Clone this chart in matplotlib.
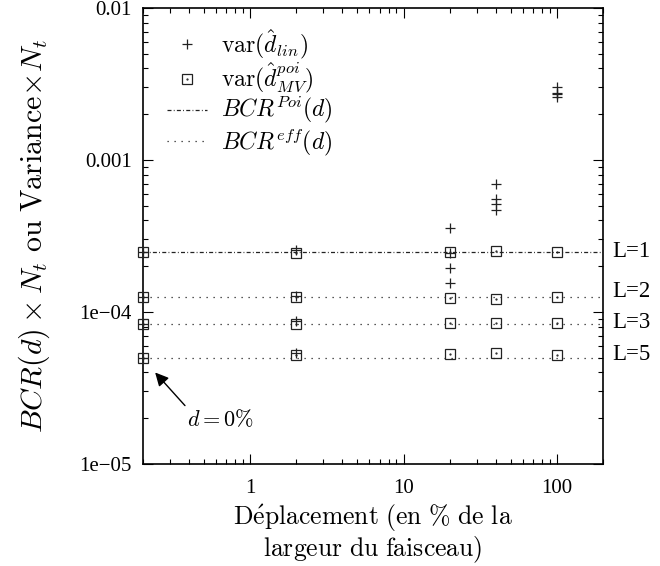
import matplotlib
matplotlib.use("Agg")
import matplotlib.pyplot as plt
from matplotlib.lines import Line2D
import numpy as np

plt.rcParams['mathtext.fontset'] = 'cm'

# ---------------- data ----------------
displacement = [0.2, 2, 20, 40, 100]          # % of beam width (0% drawn at left edge)
var_lin = [                                    # var(d_lin) x Nt, 4 values per displacement
    [2.5e-4, 1.25e-4, 8.4e-5, 5.0e-5],
    [2.55e-4, 1.28e-4, 8.7e-5, 5.35e-5],
    [3.55e-4, 2.45e-4, 1.94e-4, 1.55e-4],
    [6.95e-4, 5.5e-4, 5.1e-4, 4.7e-4],
    [3.0e-3, 2.75e-3, 2.7e-3, 2.6e-3],
]
var_mv = [                                     # var(d_MV^poi) x Nt
    [2.5e-4, 1.25e-4, 8.4e-5, 5.0e-5],
    [2.45e-4, 1.25e-4, 8.3e-5, 5.2e-5],
    [2.5e-4, 1.24e-4, 8.5e-5, 5.3e-5],
    [2.52e-4, 1.22e-4, 8.5e-5, 5.35e-5],
    [2.5e-4, 1.25e-4, 8.5e-5, 5.2e-5],
]
bcr_poi = 2.5e-4
L_values = [1, 2, 3, 5]
L_labels = ["L=1", "L=2", "L=3", "L=5"]
ytick_vals = [1e-5, 1e-4, 1e-3, 1e-2]
ytick_labels = ["1e\u221205", "1e\u221204", "0.001", "0.01"]
xtick_vals = [1, 10, 100]
xtick_labels = ["1", "10", "100"]

# ---------------- figure ----------------
fig = plt.figure(figsize=(6.6, 5.66), dpi=100)
ax = fig.add_axes([143/660, 1-464/566, 460/660, 456/566])
ax.set_xscale('log')
ax.set_yscale('log')
ax.set_xlim(0.2, 200)
ax.set_ylim(1e-5, 1e-2)

dark = '#222222'
dashdot = (0, (3.2, 1.8, 0.7, 1.8))
dotted = (0, (1.0, 4.6))

# BCR lines
for i, L in enumerate(L_values):
    ax.axhline(bcr_poi / L, color=dark, lw=0.9,
               linestyle=dashdot if L == 1 else dotted, zorder=1)

# markers
xs_lin = np.repeat(displacement, 4)
ys_lin = np.concatenate(var_lin)
xs_mv = np.repeat(displacement, 4)
ys_mv = np.concatenate(var_mv)
ax.plot(xs_lin, ys_lin, linestyle='none', marker='+', ms=7, mew=0.9,
        color=dark, clip_on=False, zorder=3)
ax.plot(xs_mv, ys_mv, linestyle='none', marker='s', ms=7.5, mew=0.9,
        mfc='none', mec=dark, clip_on=False, zorder=3)
ax.plot(xs_mv, ys_mv, linestyle='none', marker='.', ms=1.2,
        color=dark, clip_on=False, zorder=3)

# L labels at right
label_offsets = [0, 4, 1, 2]
for L, lab, off in zip(L_values, L_labels, label_offsets):
    ax.annotate(lab, xy=(1.0, bcr_poi / L), xycoords=('axes fraction', 'data'),
                xytext=(7, off), textcoords='offset points',
                ha='left', va='center', fontsize=16.5, family='Liberation Serif',
                annotation_clip=False)

# d = 0% annotation
ax.annotate(r'$d = 0\%$', xy=(0.24, 4.0e-5), xytext=(0.39, 1.97e-5),
            fontsize=16, ha='left', va='center',
            arrowprops=dict(arrowstyle='-|>', color='black', lw=1.0,
                            mutation_scale=20, shrinkA=0, shrinkB=0,
                            relpos=(0, 1)))

# ticks
ax.set_yticks(ytick_vals)
ax.set_yticklabels(ytick_labels)
ax.set_xticks(xtick_vals)
ax.set_xticklabels(xtick_labels)
ax.tick_params(which='both', direction='in', top=True, right=True, color='black')
ax.tick_params(which='major', length=7, width=0.8, labelsize=15)
ax.tick_params(axis='y', which='major', pad=8)
ax.tick_params(axis='x', which='major', pad=11)
ax.tick_params(which='minor', length=3.5, width=0.8)
for lab in ax.get_xticklabels() + ax.get_yticklabels():
    lab.set_family('Liberation Serif')
for s in ax.spines.values():
    s.set_linewidth(1.2)

# axis labels
ax.set_xlabel(r'$\mathrm{D\acute{e}placement\ (en\ \%\ de\ la}$' + '\n'
              + r'$\mathrm{largeur\ du\ faisceau)}$', fontsize=18.5, labelpad=3,
              linespacing=1.05)
ax.set_ylabel(r'$BCR(d)\times N_t\ \mathrm{ou\ Variance}\!\times\! N_t$',
              fontsize=21.5, labelpad=20)

# legend
h_lin = Line2D([], [], linestyle='none', marker='+', ms=7, mew=0.9, color=dark)
h_sq = Line2D([], [], linestyle='none', marker='s', ms=7.5, mew=0.9, mfc='none', mec=dark)
h_dot = Line2D([], [], linestyle='none', marker='.', ms=1.2, color=dark)
h_poi = Line2D([], [], color=dark, lw=0.9, linestyle=dashdot)
h_eff = Line2D([], [], color=dark, lw=0.9, linestyle=dotted)
ax.legend([h_lin, (h_sq, h_dot), h_poi, h_eff],
          [r'$\mathrm{var}(\hat{d}_{lin})$', r'$\mathrm{var}(\hat{d}^{poi}_{MV})$',
           r'$BCR^{Poi}(d)$', r'$BCR^{eff}(d)$'],
          loc='upper left', bbox_to_anchor=(0.052, 0.958), frameon=False,
          fontsize=17, borderpad=0, borderaxespad=0, handlelength=1.7,
          handletextpad=0.6, labelspacing=0.0)

fig.savefig('out.png', dpi=100)
